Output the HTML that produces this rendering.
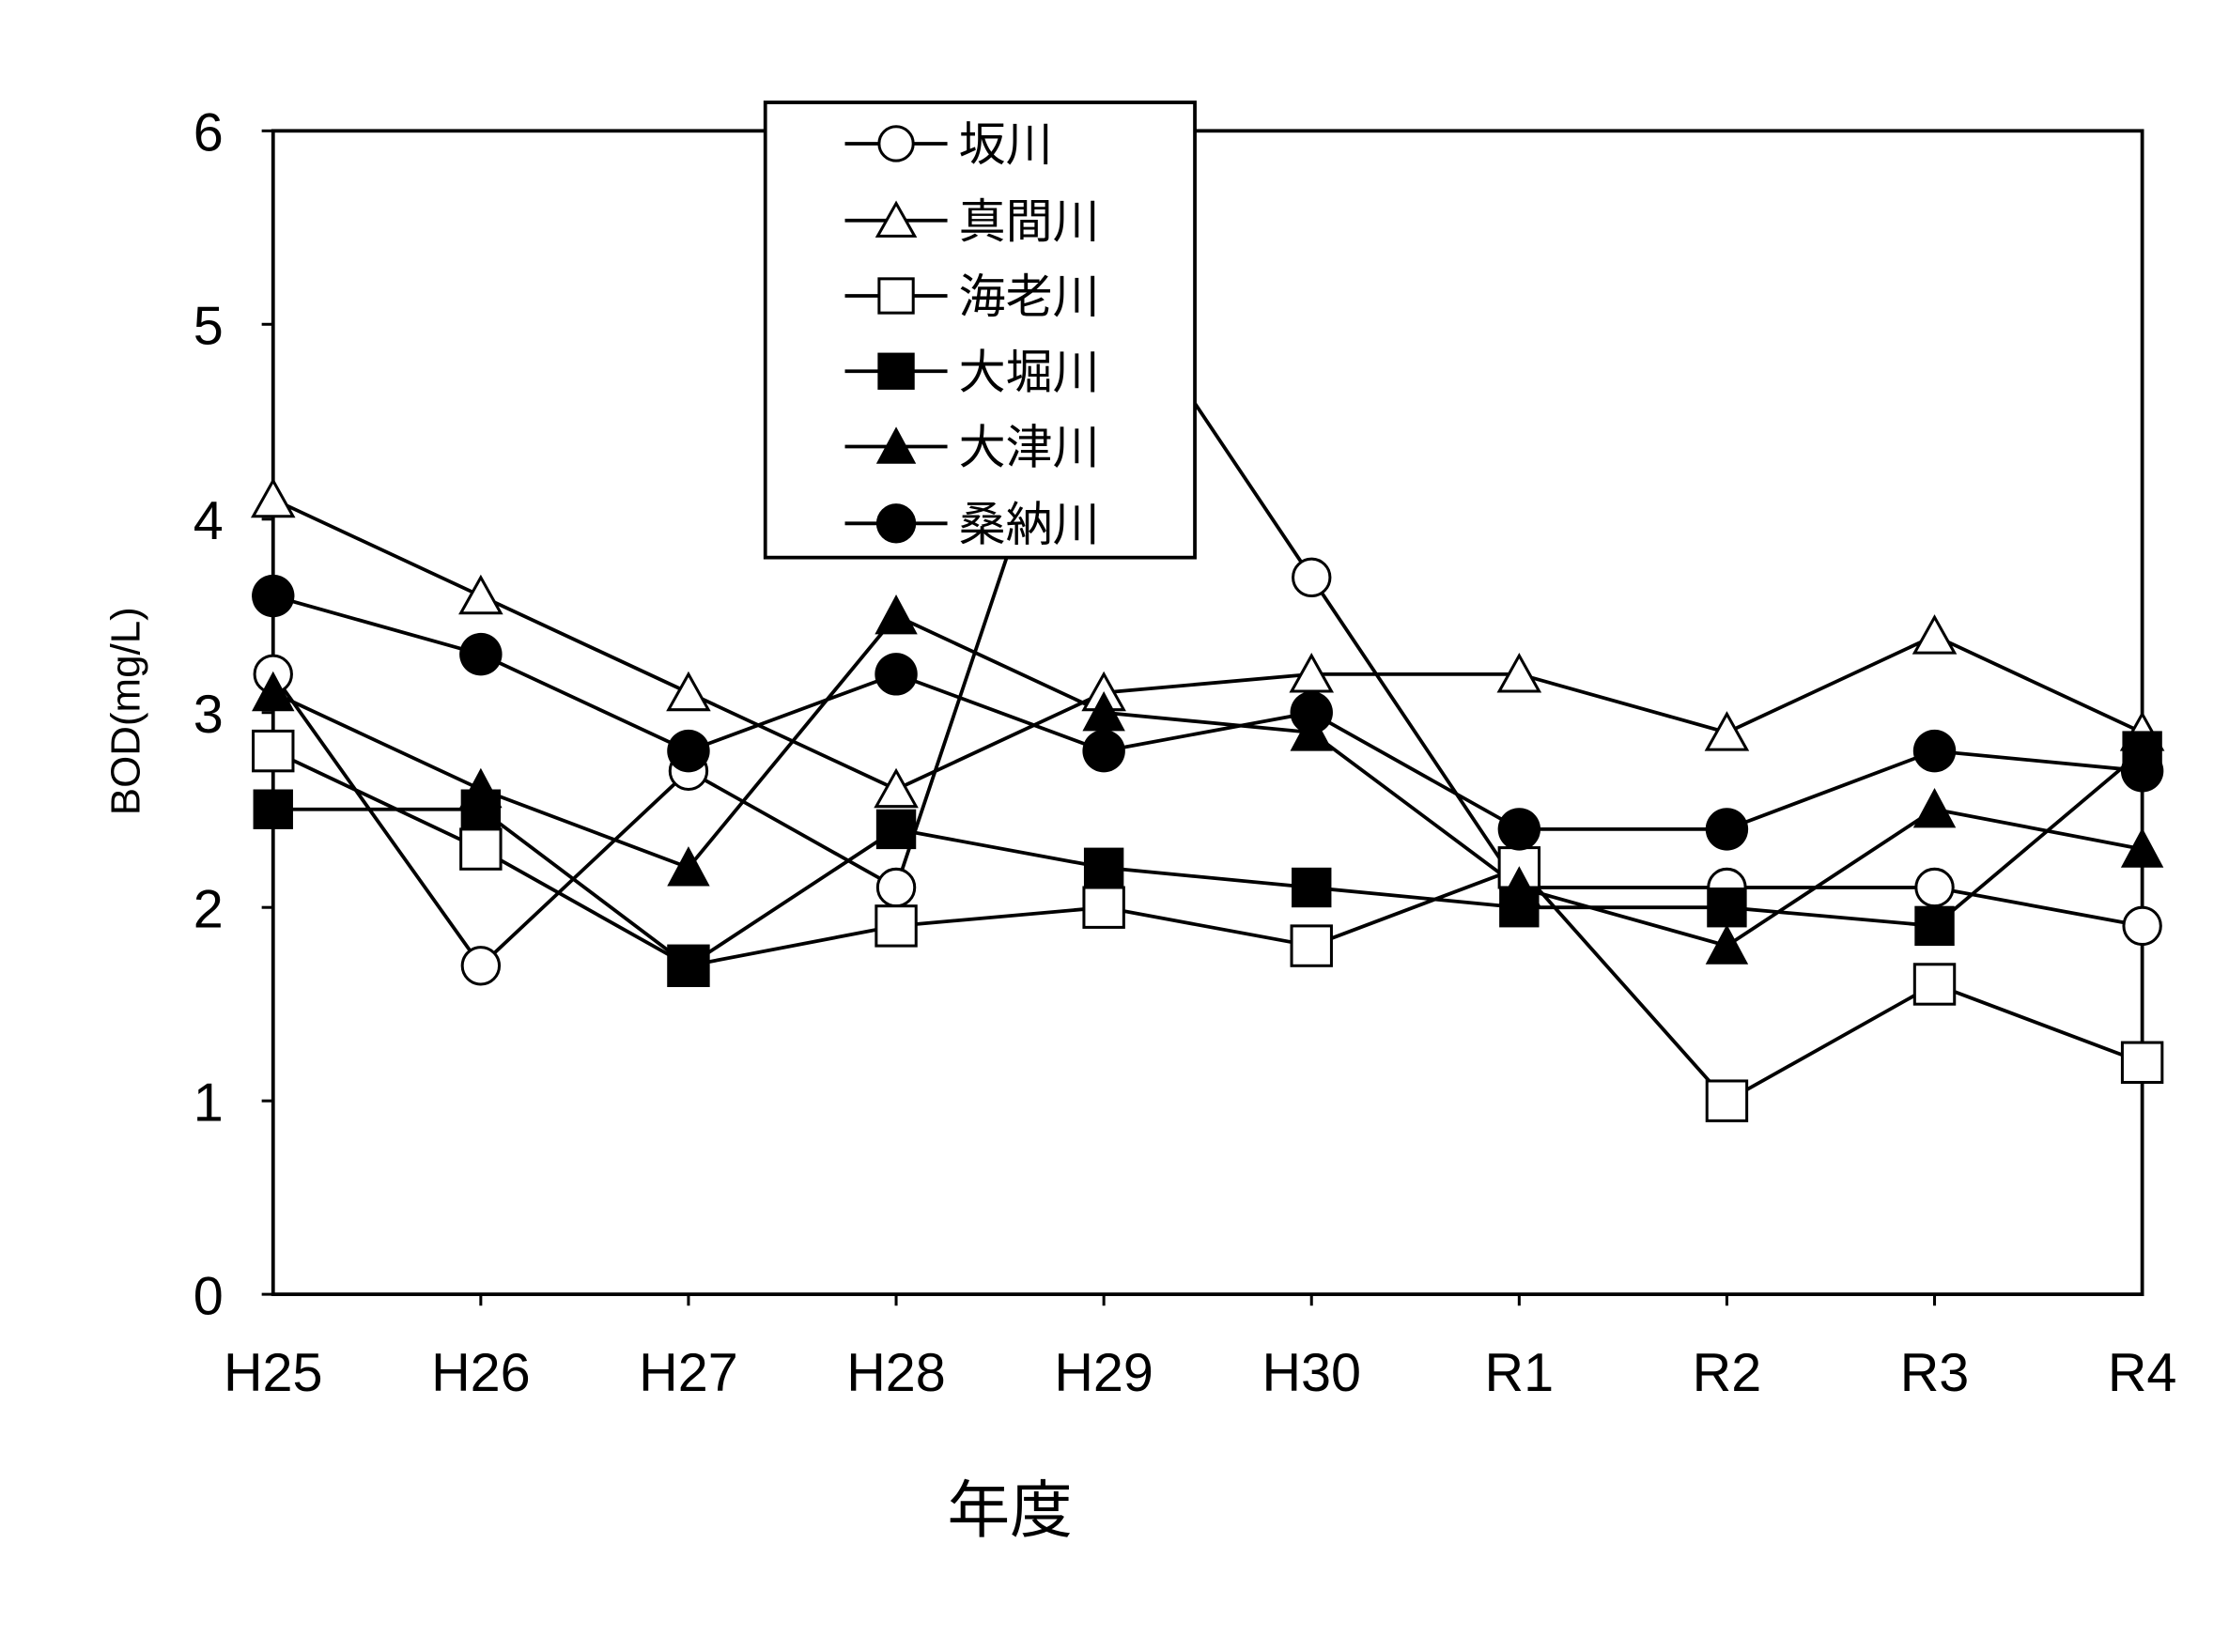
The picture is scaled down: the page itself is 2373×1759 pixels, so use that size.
<!DOCTYPE html>
<html><head><meta charset="utf-8"><style>html,body{margin:0;padding:0;background:#fff}svg{display:block}</style></head>
<body>
<svg width="2373" height="1759" viewBox="0 0 1567 1161.5" preserveAspectRatio="none" xmlns="http://www.w3.org/2000/svg" font-family="'Liberation Sans','Noto Sans CJK JP',sans-serif">
<rect width="1567" height="1162" fill="#fff"/>
<rect x="192" y="92" width="1314" height="818" fill="none" stroke="#000" stroke-width="2.5"/>
<g stroke="#000" stroke-width="2">
<line x1="184" y1="910" x2="192" y2="910"/><line x1="184" y1="774" x2="192" y2="774"/><line x1="184" y1="638" x2="192" y2="638"/><line x1="184" y1="501" x2="192" y2="501"/><line x1="184" y1="365" x2="192" y2="365"/><line x1="184" y1="228" x2="192" y2="228"/><line x1="184" y1="92" x2="192" y2="92"/>
<line x1="338" y1="910" x2="338" y2="918"/><line x1="484" y1="910" x2="484" y2="918"/><line x1="630" y1="910" x2="630" y2="918"/><line x1="776" y1="910" x2="776" y2="918"/><line x1="922" y1="910" x2="922" y2="918"/><line x1="1068" y1="910" x2="1068" y2="918"/><line x1="1214" y1="910" x2="1214" y2="918"/><line x1="1360" y1="910" x2="1360" y2="918"/>
</g>
<g font-size="38" text-anchor="end">
<text x="157" y="924">0</text><text x="157" y="788">1</text><text x="157" y="652">2</text><text x="157" y="515">3</text><text x="157" y="379">4</text><text x="157" y="242">5</text><text x="157" y="106">6</text>
</g>
<g font-size="38" text-anchor="middle">
<text x="192" y="978">H25</text><text x="338" y="978">H26</text><text x="484" y="978">H27</text><text x="630" y="978">H28</text><text x="776" y="978">H29</text><text x="922" y="978">H30</text><text x="1068" y="978">R1</text><text x="1214" y="978">R2</text><text x="1360" y="978">R3</text><text x="1506" y="978">R4</text>
</g>
<text x="710" y="1077" font-size="44" text-anchor="middle">年度</text>
<text transform="translate(98,500) rotate(-90)" font-size="29" text-anchor="middle">BOD(mg/L)</text>
<g fill="none" stroke="#000" stroke-width="2.5">
<polyline points="192,474 338,679 484,542 630,624 776,188 922,406 1068,624 1214,624 1360,624 1506,651"/>
<polyline points="192,351 338,419 484,487 630,555 776,487 922,474 1068,474 1214,515 1360,447 1506,515"/>
<polyline points="192,528 338,597 484,679 630,651 776,638 922,665 1068,610 1214,774 1360,692 1506,747"/>
<polyline points="192,569 338,569 484,679 630,583 776,610 922,624 1068,638 1214,638 1360,651 1506,528"/>
<polyline points="192,487 338,555 484,610 630,433 776,501 922,515 1068,624 1214,665 1360,569 1506,597"/>
<polyline points="192,419 338,460 484,528 630,474 776,528 922,501 1068,583 1214,583 1360,528 1506,542"/>
</g>
<g fill="#fff" stroke="#000" stroke-width="2">
<circle cx="192" cy="474" r="13"/><circle cx="338" cy="679" r="13"/><circle cx="484" cy="542" r="13"/><circle cx="630" cy="624" r="13"/><circle cx="922" cy="406" r="13"/><circle cx="1068" cy="624" r="13"/><circle cx="1214" cy="624" r="13"/><circle cx="1360" cy="624" r="13"/><circle cx="1506" cy="651" r="13"/>
</g>
<g fill="#fff" stroke="#000" stroke-width="2">
<polygon points="192,338 178,363 206,363"/><polygon points="338,406 324,431 352,431"/><polygon points="484,474 470,499 498,499"/><polygon points="630,542 616,567 644,567"/><polygon points="776,474 762,499 790,499"/><polygon points="922,461 908,486 936,486"/><polygon points="1068,461 1054,486 1082,486"/><polygon points="1214,502 1200,527 1228,527"/><polygon points="1360,434 1346,459 1374,459"/><polygon points="1506,502 1492,527 1520,527"/>
</g>
<g fill="#fff" stroke="#000" stroke-width="2">
<rect x="178" y="514" width="28" height="28"/><rect x="324" y="583" width="28" height="28"/><rect x="470" y="665" width="28" height="28"/><rect x="616" y="637" width="28" height="28"/><rect x="762" y="624" width="28" height="28"/><rect x="908" y="651" width="28" height="28"/><rect x="1054" y="596" width="28" height="28"/><rect x="1200" y="760" width="28" height="28"/><rect x="1346" y="678" width="28" height="28"/><rect x="1492" y="733" width="28" height="28"/>
</g>
<g fill="#000">
<rect x="178" y="555" width="28" height="28"/><rect x="324" y="555" width="28" height="28"/><rect x="470" y="665" width="28" height="28"/><rect x="616" y="569" width="28" height="28"/><rect x="762" y="596" width="28" height="28"/><rect x="908" y="610" width="28" height="28"/><rect x="1054" y="624" width="28" height="28"/><rect x="1200" y="624" width="28" height="28"/><rect x="1346" y="637" width="28" height="28"/><rect x="1492" y="514" width="28" height="28"/>
</g>
<g fill="#000">
<polygon points="192,472 177,500 207,500"/><polygon points="338,540 323,568 353,568"/><polygon points="484,595 469,623 499,623"/><polygon points="630,418 615,446 645,446"/><polygon points="776,486 761,514 791,514"/><polygon points="922,500 907,528 937,528"/><polygon points="1068,609 1053,637 1083,637"/><polygon points="1214,650 1199,678 1229,678"/><polygon points="1360,554 1345,582 1375,582"/><polygon points="1506,582 1491,610 1521,610"/>
</g>
<g fill="#000">
<circle cx="192" cy="419" r="15"/><circle cx="338" cy="460" r="15"/><circle cx="484" cy="528" r="15"/><circle cx="630" cy="474" r="15"/><circle cx="776" cy="528" r="15"/><circle cx="922" cy="501" r="15"/><circle cx="1068" cy="583" r="15"/><circle cx="1214" cy="583" r="15"/><circle cx="1360" cy="528" r="15"/><circle cx="1506" cy="542" r="15"/>
</g>
<rect x="538" y="72" width="302" height="320" fill="#fff" stroke="#000" stroke-width="2.5"/>
<g stroke="#000" stroke-width="2.5">
<line x1="594" y1="101" x2="666" y2="101"/><line x1="594" y1="155" x2="666" y2="155"/><line x1="594" y1="208" x2="666" y2="208"/><line x1="594" y1="261" x2="666" y2="261"/><line x1="594" y1="314" x2="666" y2="314"/><line x1="594" y1="368" x2="666" y2="368"/>
</g>
<circle cx="630" cy="101" r="12" fill="#fff" stroke="#000" stroke-width="2"/>
<polygon points="630,143 617,166 643,166" fill="#fff" stroke="#000" stroke-width="2"/>
<rect x="618" y="196" width="24" height="24" fill="#fff" stroke="#000" stroke-width="2"/>
<rect x="617" y="248" width="26" height="26" fill="#000"/>
<polygon points="630,300 616,326 644,326" fill="#000"/>
<circle cx="630" cy="368" r="14" fill="#000"/>
<g font-size="33">
<text x="674" y="113">坂川</text><text x="674" y="167">真間川</text><text x="674" y="220">海老川</text><text x="674" y="273">大堀川</text><text x="674" y="326">大津川</text><text x="674" y="380">桑納川</text>
</g>
</svg>
</body></html>
